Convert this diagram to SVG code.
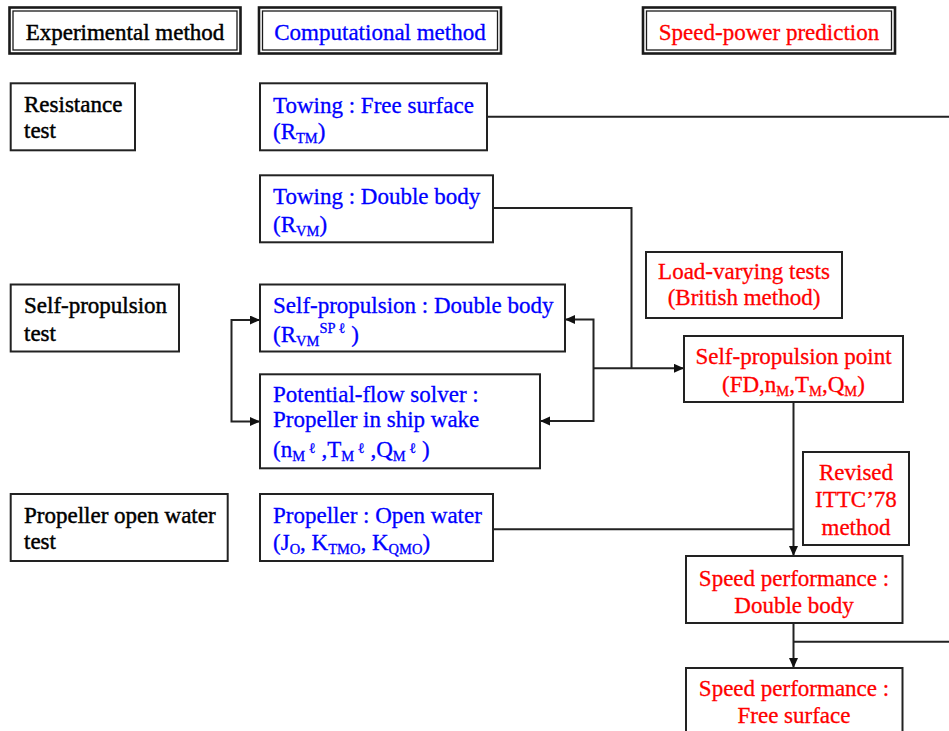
<svg xmlns="http://www.w3.org/2000/svg" width="949" height="731" viewBox="0 0 949 731">
<style>
  text { font-family: "Liberation Serif", "Times New Roman", serif; font-size: 23px; stroke-width: 0.45; }
  .k { fill: #000; stroke: #000; }
  .b { fill: #0000ff; stroke: #0000ff; stroke-width: 0.3; }
  .r { fill: #ff0000; stroke: #ff0000; stroke-width: 0.3; }
  .mid { text-anchor: middle; }
  .box { fill: #fff; stroke: #222; stroke-width: 2; }
  .outer { fill: #fff; stroke: #1a1a1a; stroke-width: 2.6; }
  .inner { fill: none; stroke: #1a1a1a; stroke-width: 1.3; }
  .s { font-size: 14.5px; }
  .ln { fill: none; stroke: #222; stroke-width: 2; }
</style>
<defs>
  <marker id="ah" markerUnits="userSpaceOnUse" markerWidth="11" markerHeight="10" refX="10" refY="4.5" orient="auto-start-reverse">
    <path d="M0,0 L10,4.5 L0,9 z" fill="#111"/>
  </marker>
</defs>

<g id="connectors">
  <path class="ln" d="M487 116.7 H949"/>
  <path class="ln" d="M493 208 H631.5 V368.3"/>
  <path class="ln" d="M260 320 H231.5 V421.5 H260" marker-start="url(#ah)" marker-end="url(#ah)"/>
  <path class="ln" d="M565 319.5 H593.5 V421 H540" marker-start="url(#ah)" marker-end="url(#ah)"/>
  <path class="ln" d="M593.5 368.3 H684" marker-end="url(#ah)"/>
  <path class="ln" d="M793.5 402 V556" marker-end="url(#ah)"/>
  <path class="ln" d="M493 529.3 H793.5"/>
  <path class="ln" d="M793.5 623 V668" marker-end="url(#ah)"/>
  <path class="ln" d="M793.5 641.7 H949"/>
</g>

<g id="hdr-experimental">
  <rect class="outer" x="9.5" y="7.5" width="231" height="46"/>
  <rect class="inner" x="13" y="11" width="224" height="39"/>
  <text class="k mid" x="125" y="39.5">Experimental method</text>
</g>
<g id="hdr-computational">
  <rect class="outer" x="259" y="7.5" width="242" height="46"/>
  <rect class="inner" x="262.5" y="11" width="235" height="39"/>
  <text class="b mid" x="380" y="39.5">Computational method</text>
</g>
<g id="hdr-speed">
  <rect class="outer" x="643" y="7.5" width="252" height="46"/>
  <rect class="inner" x="646.5" y="11" width="245" height="39"/>
  <text class="r mid" x="769" y="39.5">Speed-power prediction</text>
</g>

<g id="resistance-test">
  <rect class="box" x="10.7" y="83.3" width="124.3" height="67"/>
  <text class="k" x="24" y="112.3">Resistance</text>
  <text class="k" x="24" y="138">test</text>
</g>
<g id="towing-free-surface">
  <rect class="box" x="260" y="83.3" width="227" height="67"/>
  <text class="b" x="273" y="112.5">Towing : Free surface</text>
  <text class="b" x="273" y="139">(R<tspan class="s" dy="4">TM</tspan><tspan dy="-4">)</tspan></text>
</g>
<g id="towing-double-body">
  <rect class="box" x="260" y="175.3" width="233" height="67"/>
  <text class="b" x="273" y="204">Towing : Double body</text>
  <text class="b" x="273" y="232">(R<tspan class="s" dy="4">VM</tspan><tspan dy="-4">)</tspan></text>
</g>
<g id="load-varying">
  <rect class="box" x="646" y="252" width="196" height="66"/>
  <text class="r mid" x="744" y="278.5">Load-varying tests</text>
  <text class="r mid" x="744" y="305">(British method)</text>
</g>
<g id="self-propulsion-test">
  <rect class="box" x="10.7" y="284.5" width="168.3" height="67"/>
  <text class="k" x="24" y="313">Self-propulsion</text>
  <text class="k" x="24" y="340.5">test</text>
</g>
<g id="self-propulsion-double-body">
  <rect class="box" x="260" y="284.5" width="305" height="67"/>
  <text class="b" x="273" y="313">Self-propulsion : Double body</text>
  <text class="b" x="273" y="342">(R<tspan class="s" dy="4">VM</tspan><tspan class="s" dy="-13">SP ℓ</tspan><tspan dy="9"> )</tspan></text>
</g>
<g id="potential-flow">
  <rect class="box" x="260" y="374.3" width="280" height="94"/>
  <text class="b" x="273" y="401.5">Potential-flow solver :</text>
  <text class="b" x="273" y="427">Propeller in ship wake</text>
  <text class="b" x="273" y="456.5">(n<tspan class="s" dy="4">M</tspan><tspan class="s" dy="-8"> ℓ</tspan><tspan dy="4"> ,T</tspan><tspan class="s" dy="4">M</tspan><tspan class="s" dy="-8"> ℓ</tspan><tspan dy="4"> ,Q</tspan><tspan class="s" dy="4">M</tspan><tspan class="s" dy="-8"> ℓ</tspan><tspan dy="4"> )</tspan></text>
</g>
<g id="self-propulsion-point">
  <rect class="box" x="684" y="336" width="219" height="66"/>
  <text class="r mid" x="793.5" y="363.5">Self-propulsion point</text>
  <text class="r mid" x="793.5" y="391.5">(FD,n<tspan class="s" dy="4">M</tspan><tspan dy="-4">,T</tspan><tspan class="s" dy="4">M</tspan><tspan dy="-4">,Q</tspan><tspan class="s" dy="4">M</tspan><tspan dy="-4">)</tspan></text>
</g>
<g id="revised-ittc">
  <rect class="box" x="803" y="452" width="106" height="93"/>
  <text class="r mid" x="856" y="480">Revised</text>
  <text class="r mid" x="856" y="507">ITTC’78</text>
  <text class="r mid" x="856" y="535">method</text>
</g>
<g id="propeller-open-water-test">
  <rect class="box" x="10.7" y="494" width="217" height="67"/>
  <text class="k" x="24" y="523.3">Propeller open water</text>
  <text class="k" x="24" y="548.5">test</text>
</g>
<g id="propeller-open-water">
  <rect class="box" x="260" y="494" width="233" height="67"/>
  <text class="b" x="273" y="523.3">Propeller : Open water</text>
  <text class="b" x="273" y="550">(J<tspan class="s" dy="4">O</tspan><tspan dy="-4">, K</tspan><tspan class="s" dy="4">TMO</tspan><tspan dy="-4">, K</tspan><tspan class="s" dy="4">QMO</tspan><tspan dy="-4">)</tspan></text>
</g>
<g id="speed-double-body">
  <rect class="box" x="686" y="556" width="216.5" height="67"/>
  <text class="r mid" x="794" y="585.5">Speed performance :</text>
  <text class="r mid" x="794" y="612.5">Double body</text>
</g>
<g id="speed-free-surface">
  <rect class="box" x="686" y="668" width="216.5" height="80"/>
  <text class="r mid" x="794" y="696">Speed performance :</text>
  <text class="r mid" x="794" y="722.5">Free surface</text>
</g>
</svg>
